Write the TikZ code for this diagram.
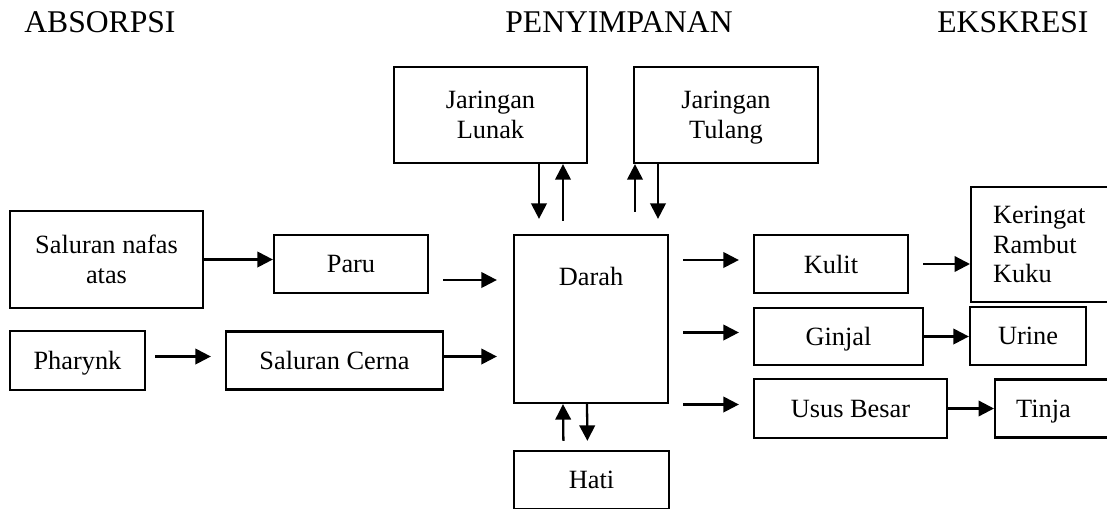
\documentclass[tikz,border=0pt]{standalone}
\usepackage{fontspec}
\setmainfont{Liberation Serif}
\usepackage{tikz}
\usetikzlibrary{arrows.meta, calc}

\begin{document}
\begin{tikzpicture}[x=0.02cm, y=-0.02cm,
    box/.style={draw, line width=1.3pt, inner sep=0pt, align=center,
      font=\fontsize{15}{17}\selectfont},
    nodesc/.style={text depth=0pt},
    head/.style={anchor=base west, inner sep=0pt, font=\fontsize{18}{20}\selectfont},
    arr/.style={-{Triangle[length=0.31cm, width=0.31cm]}, line width=1.3pt}]
  \useasboundingbox (0,0) rectangle (1107,508);
  \clip (0,0) rectangle (1107,508);

  % headings
  \node[head] (absorpsi) at (24,32) {ABSORPSI};
  \node[head] (penyimpanan) at (505,32) {PENYIMPANAN};
  \node[head] (ekskresi) at (937,32) {EKSKRESI};

  % absorption side
  \node[box, minimum width=3.86cm, minimum height=1.94cm] (nafas) at (106.5,259.5) {Saluran nafas\\atas};
  \node[box, nodesc, minimum width=2.7cm, minimum height=1.18cm] (pharynk) at (77.5,360.5) {Pharynk};
  \node[box, minimum width=3.08cm, minimum height=1.16cm] (paru) at (351,264) {Paru};
  \node[box, minimum width=4.34cm, minimum height=1.16cm] (cerna) at (334.5,360.5) {Saluran Cerna};

  % blood and storage
  \node[box, minimum width=3.08cm, text height=1cm, text depth=2.36cm] (darah) at (591,319) {Darah};
  \node[box, minimum width=3.86cm, minimum height=1.92cm] (jlunak) at (490.5,115) {Jaringan\\Lunak};
  \node[box, nodesc, minimum width=3.68cm, minimum height=1.92cm] (jtulang) at (726,115) {Jaringan\\Tulang};
  \node[box, minimum width=3.1cm, minimum height=1.16cm] (hati) at (591.5,480) {Hati};

  % excretion side
  \node[box, minimum width=3.08cm, minimum height=1.16cm] (kulit) at (831,264) {Kulit};
  \node[box, nodesc, minimum width=3.38cm, minimum height=1.14cm] (ginjal) at (838.5,336.5) {Ginjal};
  \node[box, minimum width=3.86cm, minimum height=1.18cm] (usus) at (850.5,408.5) {Usus Besar};
  \node[box, anchor=west, align=left, text width=3cm, inner xsep=0.44cm, minimum height=2.3cm] (keringat) at (970,244.5) {Keringat\\Rambut\\Kuku};
  \node[box, minimum width=2.32cm, minimum height=1.16cm] (urine) at (1028,336) {Urine};
  \node[box, nodesc, anchor=west, align=left, text width=2cm, inner xsep=0.42cm, minimum height=1.16cm] (tinja) at (994,408.5) {Tinja};

  % into the blood
  \draw[arr] (nafas.east) -- (nafas.east -| paru.west);
  \draw[arr, shorten <=0.18cm, shorten >=0.28cm] ($(pharynk.east)+(0,-4)$) -- ($(cerna.west)+(0,-4)$);
  \draw[arr, shorten <=0.28cm, shorten >=0.32cm] ($(paru.east)+(0,16)$) -- ($(paru.east -| darah.west)+(0,16)$);
  \draw[arr, shorten >=0.32cm] ($(cerna.east)+(0,-4)$) -- ($(cerna.east -| darah.west)+(0,-4)$);

  % storage, both ways
  \draw[arr, shorten >=0.3cm] ($(darah.north |- jlunak.south)+(-52,0)$) -- ($(darah.north)+(-52,0)$);
  \draw[arr, shorten <=0.26cm] ($(darah.north)+(-28,0)$) -- ($(darah.north |- jlunak.south)+(-28,0)$);
  \draw[arr, shorten <=0.44cm] ($(darah.north)+(44,0)$) -- ($(darah.north |- jtulang.south)+(44,0)$);
  \draw[arr, shorten >=0.3cm] ($(darah.north |- jtulang.south)+(67,0)$) -- ($(darah.north)+(67,0)$);
  \draw[arr, shorten <=0.18cm] ($(hati.north)+(-28,0)$) -- ($(darah.south)+(-28,0)$);
  \draw[arr, shorten >=0.18cm] ($(darah.south)+(-4,0)$) -- ($(hati.north)+(-4,0)$);

  % out of the blood
  \foreach \n in {kulit, ginjal, usus} {
    \draw[arr, shorten <=0.28cm, shorten >=0.28cm] ($(darah.east |- \n.west)+(0,-4)$) -- ($(\n.west)+(0,-4)$);
  }
  \draw[arr, shorten <=0.28cm] (kulit.east) -- (kulit.east -| keringat.west);
  \draw[arr] (ginjal.east) -- (ginjal.east -| urine.west);
  \draw[arr] (usus.east) -- (usus.east -| tinja.west);
\end{tikzpicture}
\end{document}
